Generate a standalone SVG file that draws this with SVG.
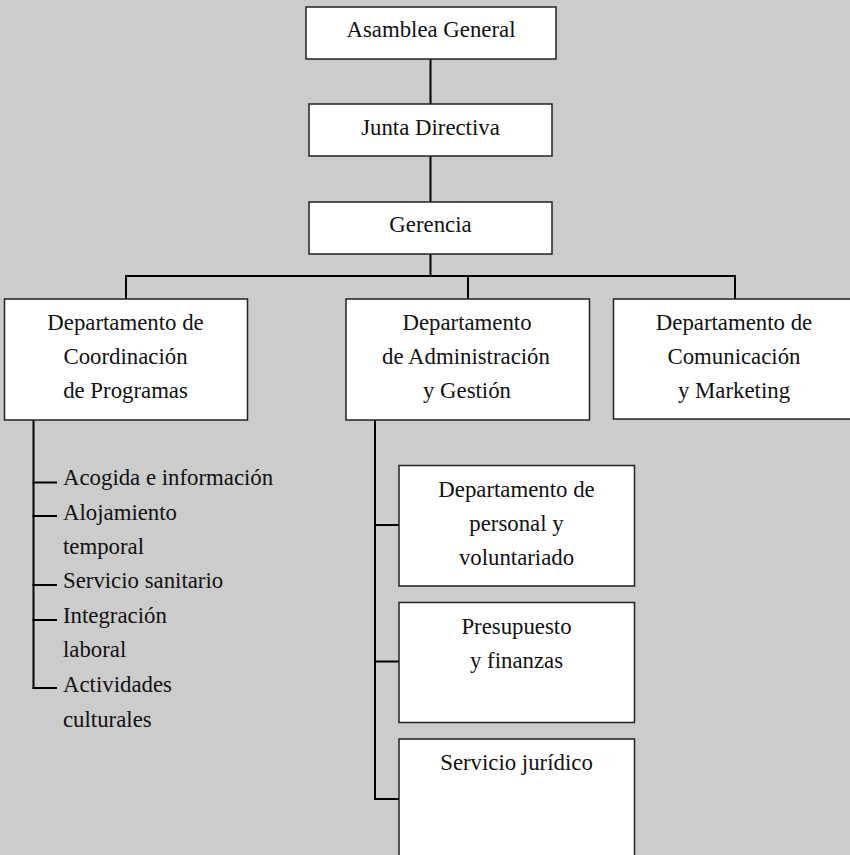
<svg xmlns="http://www.w3.org/2000/svg" width="850" height="855" viewBox="0 0 850 855">
<style>
.box{fill:#ffffff;stroke:#222222;stroke-width:1.5}
.t{font-family:"Liberation Serif","Times New Roman",serif;font-size:22.8px;fill:#111111}
.c{text-anchor:middle}
.ln{stroke:#000000;stroke-width:2;fill:none}
</style>
<rect x="0" y="0" width="850" height="855" fill="#cccccc"/>
<g id="connectors">
<line class="ln" x1="430.5" y1="59" x2="430.5" y2="104"/>
<line class="ln" x1="430.5" y1="156" x2="430.5" y2="202"/>
<line class="ln" x1="430.5" y1="254" x2="430.5" y2="276"/>
<polyline class="ln" points="126,299 126,276 735,276 735,299"/>
<line class="ln" x1="468" y1="276" x2="468" y2="299"/>
<line class="ln" x1="33.5" y1="420" x2="33.5" y2="689"/>
<line class="ln" x1="32.5" y1="482.5" x2="57" y2="482.5"/>
<line class="ln" x1="32.5" y1="516" x2="57" y2="516"/>
<line class="ln" x1="32.5" y1="585" x2="57" y2="585"/>
<line class="ln" x1="32.5" y1="620" x2="57" y2="620"/>
<line class="ln" x1="32.5" y1="688" x2="57" y2="688"/>
<line class="ln" x1="375" y1="420" x2="375" y2="800"/>
<line class="ln" x1="374" y1="525" x2="399" y2="525"/>
<line class="ln" x1="374" y1="661.5" x2="399" y2="661.5"/>
<line class="ln" x1="374" y1="799" x2="399" y2="799"/>
</g>
<g id="asamblea">
<rect class="box" x="306" y="7" width="250" height="52"/>
<text class="t c" x="431" y="37">Asamblea General</text>
</g>
<g id="junta">
<rect class="box" x="309" y="104" width="243" height="52"/>
<text class="t c" x="430.5" y="135">Junta Directiva</text>
</g>
<g id="gerencia">
<rect class="box" x="309" y="202" width="243" height="52"/>
<text class="t c" x="430.5" y="232">Gerencia</text>
</g>
<g id="dep-coordinacion">
<rect class="box" x="4.5" y="299" width="243" height="121"/>
<text class="t c" x="125.5" y="330">Departamento de</text>
<text class="t c" x="125.5" y="364">Coordinación</text>
<text class="t c" x="125.5" y="398">de Programas</text>
</g>
<g id="dep-administracion">
<rect class="box" x="346" y="299" width="243.5" height="121"/>
<text class="t c" x="467" y="330">Departamento</text>
<text class="t c" x="466" y="364">de Administración</text>
<text class="t c" x="467" y="398">y Gestión</text>
</g>
<g id="dep-comunicacion">
<rect class="box" x="613.5" y="299" width="250" height="120"/>
<text class="t c" x="734" y="330">Departamento de</text>
<text class="t c" x="734" y="364">Comunicación</text>
<text class="t c" x="734" y="398">y Marketing</text>
</g>
<g id="programas">
<text class="t" x="63" y="485">Acogida e información</text>
<text class="t" x="63" y="519.5">Alojamiento</text>
<text class="t" x="63" y="554">temporal</text>
<text class="t" x="63" y="588">Servicio sanitario</text>
<text class="t" x="63" y="623">Integración</text>
<text class="t" x="63" y="657">laboral</text>
<text class="t" x="63" y="692">Actividades</text>
<text class="t" x="63" y="726.5">culturales</text>
</g>
<g id="dep-personal">
<rect class="box" x="399" y="465.5" width="235.5" height="120.5"/>
<text class="t c" x="516.5" y="497">Departamento de</text>
<text class="t c" x="516.5" y="531">personal y</text>
<text class="t c" x="516.5" y="565">voluntariado</text>
</g>
<g id="presupuesto">
<rect class="box" x="399" y="602.5" width="235.5" height="120"/>
<text class="t c" x="516.5" y="634">Presupuesto</text>
<text class="t c" x="516.5" y="668">y finanzas</text>
</g>
<g id="juridico">
<rect class="box" x="399" y="739" width="235.5" height="130"/>
<text class="t c" x="516.5" y="770">Servicio jurídico</text>
</g>
</svg>
